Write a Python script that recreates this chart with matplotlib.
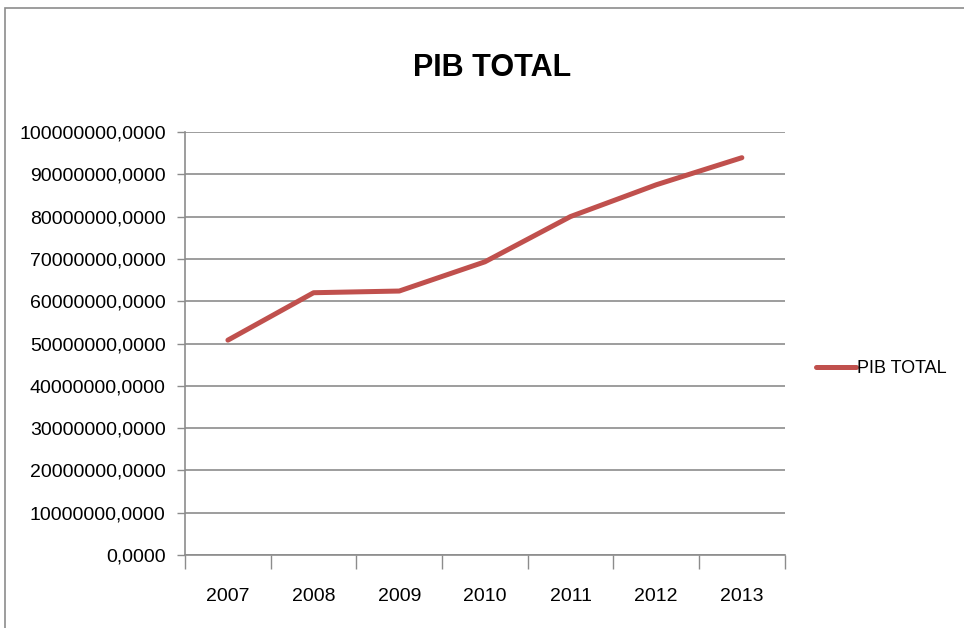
import matplotlib.pyplot as plt
from matplotlib.patches import Rectangle
from matplotlib.ticker import FixedLocator, FuncFormatter

years = ["2007", "2008", "2009", "2010", "2011", "2012", "2013"]
pib_total = [50800000, 62000000, 62400000, 69300000, 80000000, 87500000, 93900000]
y_ticks = [0, 10000000, 20000000, 30000000, 40000000, 50000000,
           60000000, 70000000, 80000000, 90000000, 100000000]

plt.rcParams['font.family'] = ['Liberation Sans', 'DejaVu Sans']

fig = plt.figure(figsize=(9.64, 6.28), dpi=100)
ax = fig.add_axes([0.192, 0.116, 0.622, 0.674])

# outer chart border (runs off the right and bottom edges)
fig.patches.append(Rectangle((5 / 964, -0.1), 1.2, 1 - 8 / 628 + 0.1,
                             transform=fig.transFigure, fill=False,
                             edgecolor='#8c8c8c', linewidth=1.2))

x = range(len(years))
ax.plot(x, pib_total, color='#C0504D', linewidth=3.6, label='PIB TOTAL',
        solid_capstyle='round')

ax.set_xlim(-0.5, len(years) - 0.5)
ax.set_ylim(0, 100000000)
ax.set_xticks(list(x))
ax.set_xticklabels(years)
ax.xaxis.set_minor_locator(FixedLocator([i - 0.5 for i in range(len(years) + 1)]))
ax.tick_params(axis='x', which='major', length=0, pad=24, labelsize=14)
ax.tick_params(axis='x', which='minor', length=10, color='#8c8c8c', width=1)

ax.yaxis.set_major_locator(FixedLocator(y_ticks))
ax.yaxis.set_major_formatter(FuncFormatter(lambda v, p: f"{int(v)},0000"))
ax.tick_params(axis='y', length=6, color='#8c8c8c', width=1, labelsize=14, pad=8)

ax.grid(axis='y', color='#8c8c8c', linewidth=1.2)
ax.set_axisbelow(True)
for side in ['top', 'right']:
    ax.spines[side].set_visible(False)
for side in ['left', 'bottom']:
    ax.spines[side].set_color('#8c8c8c')
    ax.spines[side].set_linewidth(1.2)

fig.text(0.51, 0.892, 'PIB TOTAL', ha='center', va='center',
         fontsize=22, fontweight='bold')

ax.legend(loc='center left', bbox_to_anchor=(1.025, 0.44), frameon=False,
          fontsize=13, handlelength=2.2, handletextpad=0.1)

fig.savefig('out.png', dpi=100)
